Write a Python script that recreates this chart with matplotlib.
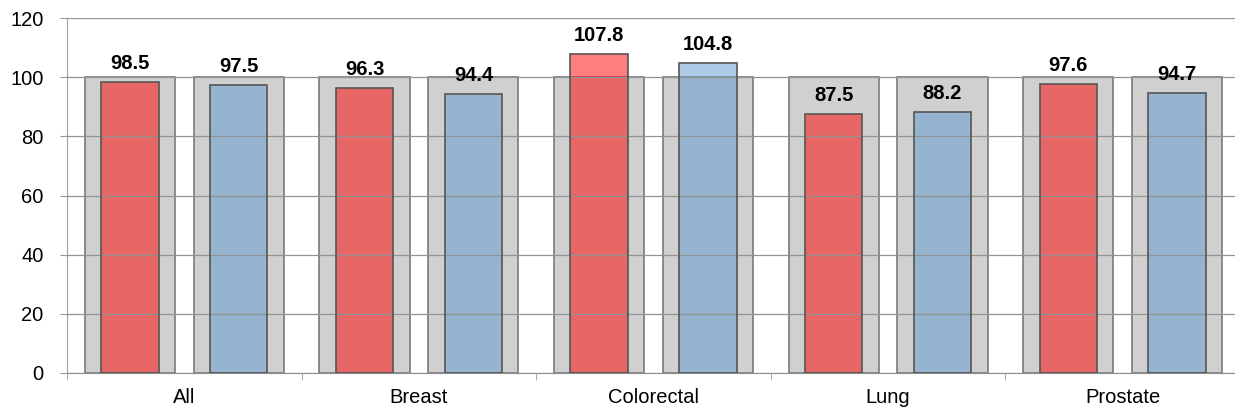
import numpy as np
import matplotlib.pyplot as plt

plt.rcParams['font.family'] = ['Liberation Sans', 'DejaVu Sans']

# --- data ---
categories = ["All", "Breast", "Colorectal", "Lung", "Prostate"]
red_vals = [98.5, 96.3, 107.8, 87.5, 97.6]
blue_vals = [97.5, 94.4, 104.8, 88.2, 94.7]
reference = [100, 100, 100, 100, 100]

fig = plt.figure(figsize=(12.35, 4.12), dpi=100)
ax = fig.add_axes([67 / 1235, 1 - 373 / 412, 1173 / 1235, 355 / 412])

x = np.arange(len(categories))
off = 0.232
gw = 0.385
cw = 0.245

# gray reference bars
ax.bar(x - off, reference, gw, color="#d0d0d0", edgecolor="#7a7a7a", linewidth=1.2, zorder=1)
ax.bar(x + off, reference, gw, color="#d0d0d0", edgecolor="#7a7a7a", linewidth=1.2, zorder=1)

# coloured bars, translucent
ax.bar(x - off, red_vals, cw, color="#ff0000", alpha=0.5, edgecolor="none", zorder=2)
ax.bar(x - off, red_vals, cw, color="none", edgecolor="#555555", linewidth=1.2, zorder=3)
ax.bar(x + off, blue_vals, cw, color="#5d97d1", alpha=0.5, edgecolor="none", zorder=2)
ax.bar(x + off, blue_vals, cw, color="none", edgecolor="#555555", linewidth=1.2, zorder=3)

for xi, v in zip(x - off, red_vals):
    ax.annotate(f"{v:.1f}", (xi, v), xytext=(0, 6.5), textcoords="offset points",
                ha="center", va="bottom", fontsize=14.5, fontweight="bold", zorder=5)
for xi, v in zip(x + off, blue_vals):
    ax.annotate(f"{v:.1f}", (xi, v), xytext=(0, 6.5), textcoords="offset points",
                ha="center", va="bottom", fontsize=14.5, fontweight="bold", zorder=5)

ax.set_ylim(0, 120)
ax.set_yticks(range(0, 121, 20))
ax.set_xlim(-0.5, len(categories) - 0.5)
ax.set_xticks(x)
ax.set_xticklabels(categories)
ax.set_xticks(np.arange(-0.5, len(categories), 1), minor=True)
ax.tick_params(axis="x", which="major", length=0, pad=11, labelsize=14.5)
ax.tick_params(axis="x", which="minor", length=5, color="#999999")
ax.tick_params(axis="y", length=5, color="#999999", labelsize=14.5, pad=12)

ax.yaxis.grid(True, color="#939393", linewidth=0.9, zorder=4)
ax.set_axisbelow(False)
for s in ["top", "right"]:
    ax.spines[s].set_visible(False)
ax.spines["left"].set_color("#a0a0a0")
ax.spines["bottom"].set_color("#8c8c8c")

fig.savefig("out.png", dpi=100)
